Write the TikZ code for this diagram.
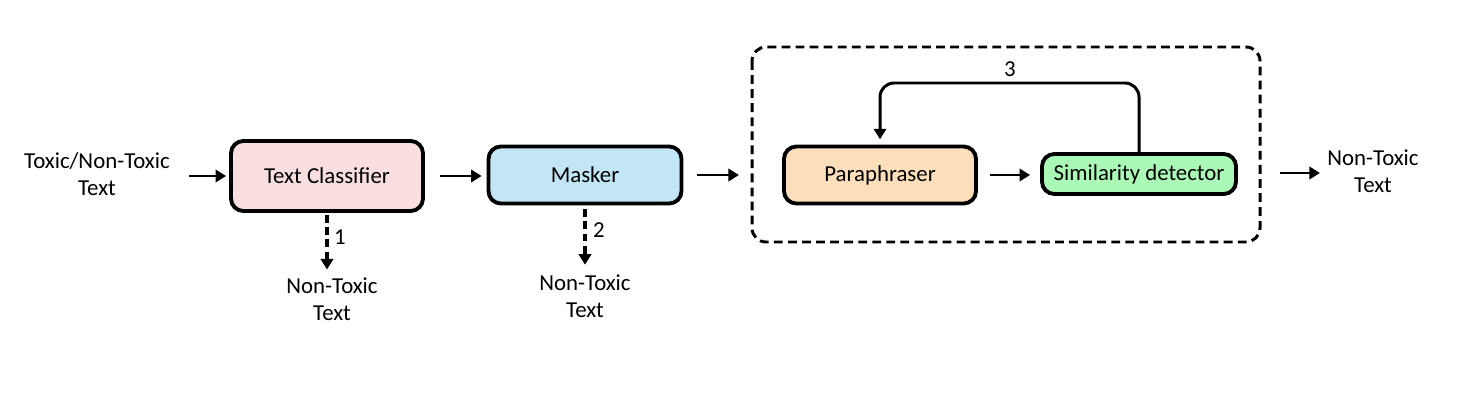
\documentclass[tikz,border=0pt]{standalone}
\usepackage{fontspec}
\setmainfont{Carlito}
\usetikzlibrary{arrows.meta}
\definecolor{tcpink}{HTML}{F8DEDF}
\definecolor{maskblue}{HTML}{C2E6F5}
\definecolor{parapeach}{HTML}{FCDEBA}
\definecolor{simgreen}{HTML}{A9F8B6}
\tikzset{
  block/.style={draw, line width=2.2pt, rounded corners=7pt, align=center,
    font=\fontsize{13}{15.5}\selectfont},
  lbl/.style={align=center, font=\fontsize{13}{15.5}\selectfont},
  flow/.style={line width=1.7pt, -{Triangle[length=6pt,width=7pt]}},
  side/.style={flow, line width=2pt, dash pattern=on 4.5pt off 2.5pt},
}
\begin{document}
\begin{tikzpicture}[x=0.02cm,y=-0.02cm]
\useasboundingbox (0,0) rectangle (1464,415);
% dashed box round the paraphrasing loop
\draw[line width=1.7pt, dash pattern=on 5pt off 3pt, rounded corners=8pt]
  (752,47) rectangle (1260,242);
\node[block, fill=tcpink, minimum width=3.84cm, minimum height=1.40cm] (tc) at (327,176) {Text Classifier};
\node[block, fill=maskblue, minimum width=3.86cm, minimum height=1.14cm] (mask) at (585,175) {Masker};
\node[block, fill=parapeach, minimum width=3.84cm, minimum height=1.14cm] (para) at (880,175) {Paraphraser};
\node[block, fill=simgreen, minimum width=3.88cm, minimum height=0.80cm] (sim) at (1139,174) {Similarity detector};
\node[lbl] (in) at (97,174) {Toxic/Non-Toxic\\Text};
\node[lbl] (out) at (1373,171) {Non-Toxic\\Text};
\node[lbl] (nt1) at (332,299) {Non-Toxic\\Text};
\node[lbl] (nt2) at (585,296) {Non-Toxic\\Text};
\coordinate (boxin) at (752,175);
\coordinate (boxout) at (1260,173);
\coordinate (top) at (1010,83);
% main line
\draw[flow, shorten <=7.4pt, shorten >=1.7pt] (in.east |- tc.west) -- (tc.west);
\draw[flow, shorten <=8.5pt, shorten >=2.8pt] (tc.east) -- (tc.east -| mask.west);
\draw[flow, shorten <=8pt, shorten >=7.4pt] (mask.east) -- (boxin);
\draw[flow, shorten <=6.8pt, shorten >=5.7pt] (para.east) -- (para.east -| sim.west);
\draw[flow, shorten <=11.3pt] (boxout) -- ++(60,0);
% feedback
\draw[flow, rounded corners=8pt, shorten >=3pt] (sim.north) |- (top) -| (para.north);
\node[lbl, anchor=south] at (top) {3};
% early exits
\draw[side, shorten <=1pt, shorten >=1pt] (tc.south) -- (tc.south |- nt1.north);
\node[lbl] at (340,237) {1};
\draw[side, shorten <=2pt, shorten >=2pt] (mask.south) -- (nt2.north);
\node[lbl] at (599,230) {2};
\end{tikzpicture}
\end{document}
